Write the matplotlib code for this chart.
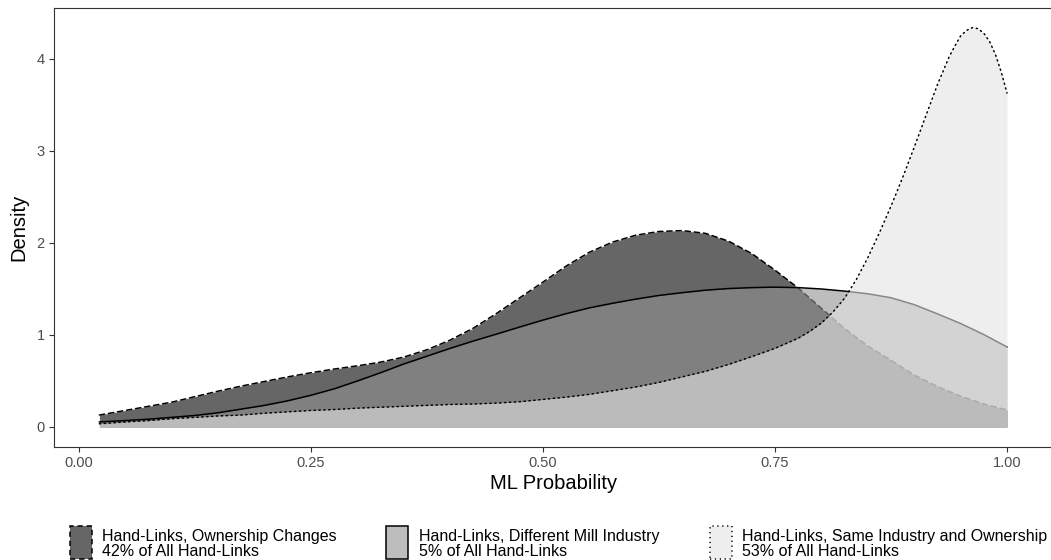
import matplotlib
matplotlib.use("Agg")
import matplotlib.pyplot as plt
from matplotlib.patches import Rectangle

plt.rcParams['font.family'] = ['Liberation Sans', 'DejaVu Sans']

# ---------------- data ----------------
x_grid = [0.022, 0.05, 0.075, 0.10, 0.125, 0.15, 0.175, 0.20, 0.225, 0.25,
          0.275, 0.30, 0.325, 0.35, 0.375, 0.40, 0.425, 0.45, 0.475, 0.50,
          0.525, 0.55, 0.575, 0.60, 0.625, 0.65, 0.675, 0.70, 0.725, 0.75,
          0.775, 0.80, 0.825, 0.85, 0.875, 0.90, 0.925, 0.95, 0.975, 1.0]

dens_ownership = [0.13, 0.18, 0.225, 0.27, 0.33, 0.39, 0.445, 0.495, 0.545, 0.59,
                  0.63, 0.665, 0.705, 0.76, 0.84, 0.945, 1.075, 1.235, 1.405, 1.575,
                  1.75, 1.90, 2.01, 2.085, 2.125, 2.135, 2.105, 2.02, 1.885, 1.705,
                  1.51, 1.29, 1.07, 0.88, 0.725, 0.565, 0.44, 0.335, 0.25, 0.185]

dens_diff_mill = [0.055, 0.07, 0.085, 0.105, 0.125, 0.155, 0.195, 0.235, 0.285, 0.345,
                  0.415, 0.50, 0.59, 0.685, 0.77, 0.855, 0.935, 1.01, 1.087, 1.162,
                  1.232, 1.295, 1.345, 1.39, 1.43, 1.46, 1.487, 1.505, 1.515, 1.52,
                  1.515, 1.50, 1.477, 1.448, 1.405, 1.33, 1.23, 1.125, 1.005, 0.87]

x_grid_same = [0.022, 0.05, 0.075, 0.10, 0.125, 0.15, 0.175, 0.20, 0.225, 0.25,
               0.275, 0.30, 0.325, 0.35, 0.375, 0.40, 0.425, 0.45, 0.475, 0.50,
               0.525, 0.55, 0.575, 0.60, 0.625, 0.65, 0.675, 0.70, 0.725, 0.75,
               0.775, 0.7875, 0.80, 0.8125, 0.825, 0.8375, 0.85, 0.8625, 0.875, 0.8875,
               0.90, 0.9125, 0.925, 0.9375, 0.94375, 0.95, 0.95625, 0.9625, 0.96875,
               0.975, 0.98125, 0.9875, 0.99375, 1.0]

dens_same = [0.035, 0.055, 0.07, 0.09, 0.105, 0.12, 0.13, 0.15, 0.165, 0.18,
             0.19, 0.205, 0.215, 0.225, 0.235, 0.245, 0.25, 0.26, 0.275, 0.30,
             0.325, 0.355, 0.395, 0.435, 0.485, 0.545, 0.605, 0.68, 0.765, 0.855,
             0.965, 1.04, 1.13, 1.25, 1.40, 1.60, 1.84, 2.11, 2.40, 2.71,
             3.04, 3.38, 3.72, 4.02, 4.14, 4.25, 4.31, 4.34, 4.33,
             4.28, 4.19, 4.05, 3.86, 3.63]

series_labels = ["Hand-Links, Ownership Changes\n42% of All Hand-Links",
                 "Hand-Links, Different Mill Industry\n5% of All Hand-Links",
                 "Hand-Links, Same Industry and Ownership\n53% of All Hand-Links"]

x_ticks = [0.0, 0.25, 0.50, 0.75, 1.0]
x_tick_labels = ["0.00", "0.25", "0.50", "0.75", "1.00"]
y_ticks = [0, 1, 2, 3, 4]

# ---------------- styles ----------------
fill_colors = ["#000000", "#929292", "#E3E3E3"]
fill_alpha = 0.6
line_styles = [(0, (3.5, 2.5)), "solid", (0, (0.8, 2.4))]
line_w = 1.1

W, H = 1051, 560
fig = plt.figure(figsize=(W / 100, H / 100), dpi=100)
ax_left, ax_right, ax_top, ax_bottom = 54, 1052.5, 8, 447
ax = fig.add_axes([ax_left / W, (H - ax_bottom) / H,
                   (ax_right - ax_left) / W, (ax_bottom - ax_top) / H])

xs_list = [x_grid, x_grid, x_grid_same]
ys_list = [dens_ownership, dens_diff_mill, dens_same]
z = 2
for xs, ys, col, ls in zip(xs_list, ys_list, fill_colors, line_styles):
    ax.fill_between(xs, ys, 0, color=col, alpha=fill_alpha, linewidth=0, zorder=z)
    ax.plot(xs, ys, color="black", linestyle=ls, linewidth=line_w,
            dash_capstyle="round" if ls != "solid" else "butt",
            solid_joinstyle="round", zorder=z + 1)
    z += 2

ax.set_xlim(-25 / 928, (ax_right - 79) / 928)
ax.set_ylim(-20 / 92, 419 / 92)
ax.set_xticks(x_ticks)
ax.set_xticklabels(x_tick_labels)
ax.set_yticks(y_ticks)
for sp in ax.spines.values():
    sp.set_color("#333333")
    sp.set_linewidth(0.8)
ax.tick_params(axis="both", colors="#333333", labelcolor="#4D4D4D",
               labelsize=10.5, length=3.6, width=0.8)
ax.tick_params(axis="x", pad=3)
ax.tick_params(axis="y", pad=3)
ax.set_xlabel("ML Probability", fontsize=14.5, labelpad=3)
ax.set_ylabel("Density", fontsize=14.5, labelpad=6)

# ---------------- legend (bottom, horizontal) ----------------
key_x = [69.5, 386, 710]
text_x = [102, 419, 742]
key_w, key_top, key_bot = 22, 526, 559
for kx, tx, col, ls, lab in zip(key_x, text_x, fill_colors, line_styles, series_labels):
    r = Rectangle((kx / W, (H - key_bot) / H), key_w / W, (key_bot - key_top) / H,
                  transform=fig.transFigure,
                  facecolor=matplotlib.colors.to_rgba(col, fill_alpha),
                  edgecolor="black", linewidth=line_w, linestyle=ls)
    fig.add_artist(r)
    lines = lab.split("\n")
    fig.text(tx / W, (H - 541) / H, lines[0], fontsize=11.5, va="baseline", ha="left")
    fig.text(tx / W, (H - 556) / H, lines[1], fontsize=11.5, va="baseline", ha="left")

fig.savefig("out.png", dpi=100)
